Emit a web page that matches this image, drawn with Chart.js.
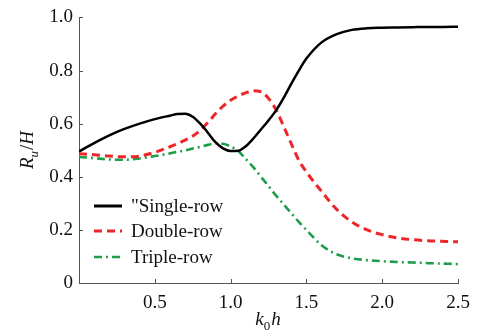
<!DOCTYPE html>
<html>
<head>
<meta charset="utf-8">
<script src="https://cdn.jsdelivr.net/npm/chart.js@4/dist/chart.umd.min.js"></script>
<style>
html,body{margin:0;padding:0;background:#fff;}
#c{display:block;}
</style>
</head>
<body>
<canvas id="c" width="479" height="334"></canvas>
<script>
// ---- data ----
const kh = [0, 0.1, 0.2, 0.3, 0.4, 0.5, 0.6, 0.65, 0.7, 0.75, 0.8, 0.85, 0.9, 0.95, 1.0, 1.05, 1.1, 1.15, 1.2, 1.25, 1.3, 1.35, 1.4, 1.45, 1.5, 1.6, 1.7, 1.8, 1.9, 2.0, 2.1, 2.2, 2.3, 2.4, 2.5];
const singleRow = [0.495, 0.527, 0.556, 0.580, 0.600, 0.617, 0.630, 0.636, 0.637, 0.626, 0.600, 0.566, 0.530, 0.507, 0.497, 0.498, 0.515, 0.544, 0.578, 0.612, 0.650, 0.697, 0.750, 0.800, 0.845, 0.906, 0.937, 0.953, 0.959, 0.961, 0.962, 0.963, 0.964, 0.964, 0.965];
const doubleRow = [0.487, 0.483, 0.478, 0.475, 0.478, 0.492, 0.513, 0.525, 0.538, 0.553, 0.575, 0.604, 0.637, 0.666, 0.688, 0.704, 0.716, 0.724, 0.720, 0.695, 0.652, 0.590, 0.525, 0.462, 0.418, 0.345, 0.277, 0.230, 0.200, 0.182, 0.170, 0.163, 0.159, 0.157, 0.155];
const tripleRow = [0.475, 0.470, 0.465, 0.464, 0.469, 0.478, 0.488, 0.494, 0.499, 0.506, 0.513, 0.520, 0.525, 0.524, 0.514, 0.497, 0.467, 0.436, 0.400, 0.365, 0.329, 0.296, 0.263, 0.230, 0.200, 0.142, 0.108, 0.093, 0.086, 0.082, 0.079, 0.077, 0.075, 0.073, 0.071];
const seriesNames = ['"Single-row', 'Double-row', 'Triple-row'];
const xTicks = [0.5, 1.0, 1.5, 2.0, 2.5];
const yTicks = [0, 0.2, 0.4, 0.6, 0.8, 1.0];

const FONT = '"Liberation Serif", "Times New Roman", serif';
const styles = [
  {color: '#000000', width: 2.5, dash: []},
  {color: '#ee2629', width: 3, dash: [8, 5]},
  {color: '#1e9e4a', width: 2.6, dash: [8, 4, 2, 4]}
];
const seriesData = [singleRow, doubleRow, tripleRow];

const datasets = seriesData.map((arr, i) => ({
  label: seriesNames[i],
  data: kh.map((x, j) => ({x: x, y: arr[j]})),
  borderColor: styles[i].color,
  backgroundColor: styles[i].color,
  borderWidth: styles[i].width,
  borderDash: styles[i].dash,
  pointRadius: 0,
  fill: false,
  cubicInterpolationMode: 'monotone'
}));

function drawRich(ctx, parts, x, y) {
  let cx = x;
  parts.forEach(p => {
    const size = p.sub ? 13 : 19;
    ctx.font = (p.italic ? 'italic ' : '') + size + 'px ' + FONT;
    ctx.fillText(p.t, cx, y + (p.sub ? 5 : 0));
    cx += ctx.measureText(p.t).width + (p.gap || 0);
  });
  return cx - x;
}
function measureRich(ctx, parts) {
  let w = 0;
  parts.forEach(p => {
    const size = p.sub ? 13 : 19;
    ctx.font = (p.italic ? 'italic ' : '') + size + 'px ' + FONT;
    w += ctx.measureText(p.t).width + (p.gap || 0);
  });
  return w;
}

const decor = {
  id: 'decor',
  afterDraw(chart) {
    const ctx = chart.ctx;
    const xs = chart.scales.x, ys = chart.scales.y;
    const area = chart.chartArea;
    ctx.save();
    // inward ticks
    ctx.strokeStyle = '#555';
    ctx.lineWidth = 1;
    ctx.beginPath();
    xTicks.forEach(v => {
      const px = Math.round(xs.getPixelForValue(v)) + 0.5;
      ctx.moveTo(px, area.bottom);
      ctx.lineTo(px, area.bottom - 4);
    });
    yTicks.forEach(v => {
      const py = Math.round(ys.getPixelForValue(v)) + 0.5;
      ctx.moveTo(area.left, py);
      ctx.lineTo(area.left + 4, py);
    });
    ctx.stroke();

    // axis titles
    ctx.fillStyle = '#111';
    ctx.textBaseline = 'alphabetic';
    ctx.textAlign = 'left';
    const xt = [{t: 'k', italic: true}, {t: '0', sub: true, gap: 1}, {t: 'h', italic: true}];
    const wx = measureRich(ctx, xt);
    drawRich(ctx, xt, 268 - wx / 2, 325);

    const yt = [{t: 'R', italic: true}, {t: 'u', italic: true, sub: true, gap: 1}, {t: '/', italic: false}, {t: 'H', italic: true}];
    const wy = measureRich(ctx, yt);
    ctx.save();
    ctx.translate(33, 150);
    ctx.rotate(-Math.PI / 2);
    drawRich(ctx, yt, -wy / 2, 0);
    ctx.restore();

    // legend
    const rows = [206, 231, 257];
    chart.data.datasets.forEach((ds, i) => {
      const y = rows[i];
      ctx.strokeStyle = ds.borderColor;
      ctx.lineWidth = i === 0 ? 3 : ds.borderWidth;
      ctx.setLineDash(ds.borderDash);
      ctx.beginPath();
      ctx.moveTo(94, y);
      ctx.lineTo(122, y);
      ctx.stroke();
      ctx.setLineDash([]);
      ctx.fillStyle = '#111';
      ctx.font = '19px ' + FONT;
      ctx.textBaseline = 'middle';
      ctx.fillText(ds.label, 131, y + 1);
    });
    ctx.restore();
  }
};

new Chart(document.getElementById('c'), {
  type: 'line',
  data: {datasets: datasets},
  options: {
    responsive: false,
    animation: false,
    devicePixelRatio: 1,
    layout: {padding: {top: 17, right: 21, left: 0, bottom: 0}},
    plugins: {legend: {display: false}, tooltip: {enabled: false}},
    scales: {
      x: {
        type: 'linear', min: 0, max: 2.5,
        afterFit(s) { s.height = 51; },
        afterBuildTicks(s) { s.ticks = [0].concat(xTicks).map(v => ({value: v})); },
        grid: {display: false, drawTicks: false},
        border: {display: true, color: '#555', width: 1},
        ticks: {
          padding: 9,
          color: '#111',
          font: {family: FONT, size: 19},
          maxRotation: 0,
          callback: v => v === 0 ? '' : v.toFixed(1)
        }
      },
      y: {
        type: 'linear', min: 0, max: 1,
        afterFit(s) { s.width = 79; },
        afterBuildTicks(s) { s.ticks = yTicks.map(v => ({value: v})); },
        grid: {display: false, drawTicks: false},
        border: {display: true, color: '#555', width: 1},
        ticks: {
          padding: 6,
          color: '#111',
          font: {family: FONT, size: 19},
          callback: v => v === 0 ? '0' : v.toFixed(1)
        }
      }
    }
  },
  plugins: [decor]
});
</script>
</body>
</html>
